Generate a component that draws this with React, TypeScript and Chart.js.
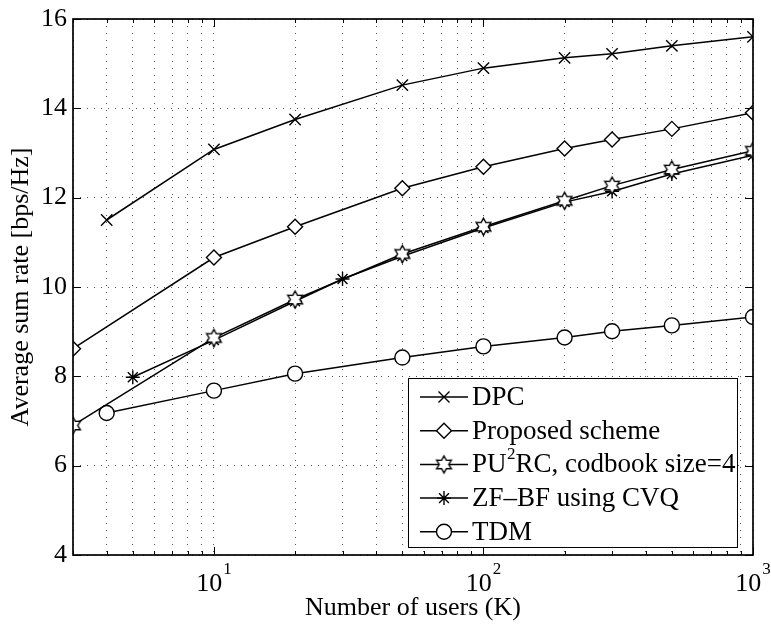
import React, { useEffect, useRef } from 'react';
import { Chart, registerables } from 'chart.js';

Chart.register(...registerables);

// ---------- data ----------
const kDPC = [4, 10, 20, 50, 100, 200, 300, 500, 1000];
const dpc = [11.5, 13.08, 13.75, 14.52, 14.9, 15.13, 15.22, 15.4, 15.6];

const kProposed = [3, 10, 20, 50, 100, 200, 300, 500, 1000];
const proposed = [8.62, 10.66, 11.35, 12.21, 12.69, 13.1, 13.3, 13.54, 13.9];

const kPU2RC = [3, 10, 20, 50, 100, 200, 300, 500, 1000];
const pu2rc = [6.9, 8.86, 9.72, 10.74, 11.35, 11.93, 12.27, 12.63, 13.05];

const kZF = [5, 10, 20, 30, 50, 100, 200, 300, 500, 1000];
const zf = [7.98, 8.81, 9.68, 10.18, 10.69, 11.32, 11.9, 12.14, 12.53, 12.95];

const kTDM = [4, 10, 20, 50, 100, 200, 300, 500, 1000];
const tdm = [7.18, 7.68, 8.06, 8.42, 8.67, 8.87, 9.01, 9.14, 9.33];

const seriesLabels = ['DPC', 'Proposed scheme', 'PU^2RC, codbook size=4', 'ZF\u2013BF using CVQ', 'TDM'];

const xTicks = [3, 4, 5, 6, 7, 8, 9, 10, 20, 30, 40, 50, 60, 70, 80, 90, 100, 200, 300, 400, 500, 600, 700, 800, 900, 1000];
const xMajor = [10, 100, 1000];
const xMajorExp = ['1', '2', '3'];
const yTicks = [4, 6, 8, 10, 12, 14, 16];

const xTitle = 'Number of users (K)';
const yTitle = 'Average sum rate [bps/Hz]';

const FONT = '"Liberation Serif", "DejaVu Serif", serif';

function makeHexagram(R: number) {
  const c = document.createElement('canvas');
  const s = Math.ceil(R * 2 + 4);
  c.width = s;
  c.height = s;
  const g = c.getContext('2d')!;
  const cx = s / 2, cy = s / 2;
  g.beginPath();
  for (let i = 0; i < 12; i++) {
    const ang = -Math.PI / 2 + (i * Math.PI) / 6;
    const r = i % 2 === 0 ? R : R * 0.56;
    const px = cx + r * Math.cos(ang);
    const py = cy + r * Math.sin(ang);
    if (i === 0) g.moveTo(px, py); else g.lineTo(px, py);
  }
  g.closePath();
  g.fillStyle = '#fff';
  g.fill();
  g.lineWidth = 1.4;
  g.strokeStyle = '#000';
  g.stroke();
  return c;
}

function drawLegendMarker(ctx: CanvasRenderingContext2D, kind: string, x: number, y: number, hex: HTMLCanvasElement) {
  ctx.save();
  ctx.strokeStyle = '#000';
  ctx.fillStyle = '#fff';
  ctx.lineWidth = 1.4;
  ctx.beginPath();
  if (kind === 'crossRot') {
    const d = 5.5;
    ctx.moveTo(x - d, y - d); ctx.lineTo(x + d, y + d);
    ctx.moveTo(x + d, y - d); ctx.lineTo(x - d, y + d);
    ctx.stroke();
  } else if (kind === 'rectRot') {
    const r = 7.5;
    ctx.moveTo(x - r, y); ctx.lineTo(x, y - r); ctx.lineTo(x + r, y); ctx.lineTo(x, y + r);
    ctx.closePath();
    ctx.fill(); ctx.stroke();
  } else if (kind === 'hex') {
    ctx.drawImage(hex, x - hex.width / 2, y - hex.height / 2);
  } else if (kind === 'star') {
    const r = 7;
    const d = r * Math.SQRT1_2;
    ctx.moveTo(x - r, y); ctx.lineTo(x + r, y);
    ctx.moveTo(x, y - r); ctx.lineTo(x, y + r);
    ctx.moveTo(x - d, y - d); ctx.lineTo(x + d, y + d);
    ctx.moveTo(x + d, y - d); ctx.lineTo(x - d, y + d);
    ctx.stroke();
  } else if (kind === 'circle') {
    ctx.arc(x, y, 7.5, 0, Math.PI * 2);
    ctx.fill(); ctx.stroke();
  }
  ctx.restore();
}

export default function App() {
  const ref = useRef<HTMLCanvasElement | null>(null);

  useEffect(() => {
    const canvas = ref.current;
    if (!canvas) return;
    const hex = makeHexagram(8.5);
    const markerKinds = ['crossRot', 'rectRot', 'hex', 'star', 'circle'];

    const mk = (ks: number[], vs: number[]) => ks.map((k, i) => ({ x: k, y: vs[i] }));
    const base = {
      borderColor: '#000',
      borderWidth: 1.5,
      pointBorderColor: '#000',
      pointBackgroundColor: '#fff',
      pointBorderWidth: 1.4,
      fill: false,
      tension: 0,
    };

    const overlay = {
      id: 'overlay',
      afterDraw(chart: any) {
        const { ctx, chartArea: a, scales } = chart;
        const xs = scales.x, ys = scales.y;
        ctx.save();
        ctx.strokeStyle = '#000';
        ctx.lineWidth = 1;
        ctx.setLineDash([]);
        ctx.beginPath();
        for (const v of xTicks) {
          const px = Math.round(xs.getPixelForValue(v)) + 0.5;
          const len = xMajor.includes(v) ? 8 : 4;
          ctx.moveTo(px, a.bottom); ctx.lineTo(px, a.bottom - len);
          ctx.moveTo(px, a.top); ctx.lineTo(px, a.top + len);
        }
        for (const v of yTicks) {
          const py = Math.round(ys.getPixelForValue(v)) + 0.5;
          ctx.moveTo(a.left, py); ctx.lineTo(a.left + 8, py);
          ctx.moveTo(a.right, py); ctx.lineTo(a.right - 8, py);
        }
        ctx.stroke();
        ctx.lineWidth = 1.7;
        ctx.strokeRect(a.left, a.top, a.right - a.left, a.bottom - a.top);

        // x tick labels with superscript exponent
        ctx.fillStyle = '#000';
        ctx.textBaseline = 'middle';
        ctx.textAlign = 'left';
        xMajor.forEach((v, i) => {
          const px = xs.getPixelForValue(v);
          ctx.font = `26px ${FONT}`;
          const wb = ctx.measureText('10').width;
          ctx.font = `17px ${FONT}`;
          const we = ctx.measureText(xMajorExp[i]).width;
          const x0 = px - (wb + we + 1) / 2;
          ctx.font = `26px ${FONT}`;
          ctx.fillText('10', x0, a.bottom + 29);
          ctx.font = `17px ${FONT}`;
          ctx.fillText(xMajorExp[i], x0 + wb + 1, a.bottom + 15);
        });

        // axis titles
        ctx.font = `26px ${FONT}`;
        ctx.textAlign = 'center';
        ctx.textBaseline = 'middle';
        ctx.fillText(xTitle, (a.left + a.right) / 2, a.bottom + 53);
        ctx.save();
        ctx.translate(a.left - 52, (a.top + a.bottom) / 2);
        ctx.rotate(-Math.PI / 2);
        ctx.fillText(yTitle, 0, 0);
        ctx.restore();

        // legend
        const lx0 = a.left + 335, lx1 = a.right - 16;
        const ly0 = a.bottom - 177, ly1 = a.bottom - 8;
        ctx.fillStyle = '#fff';
        ctx.fillRect(lx0, ly0, lx1 - lx0, ly1 - ly0);
        ctx.lineWidth = 1;
        ctx.strokeStyle = '#000';
        ctx.strokeRect(lx0 + 0.5, ly0 + 0.5, lx1 - lx0, ly1 - ly0);
        const rowH = 33.7;
        seriesLabels.forEach((lab, i) => {
          const cy = ly0 + 19 + i * rowH;
          ctx.lineWidth = 1.5;
          ctx.beginPath();
          ctx.moveTo(lx0 + 12, cy); ctx.lineTo(lx0 + 60, cy);
          ctx.stroke();
          drawLegendMarker(ctx, markerKinds[i], lx0 + 36, cy, hex);
          ctx.fillStyle = '#000';
          ctx.textAlign = 'left';
          ctx.textBaseline = 'middle';
          let tx = lx0 + 64;
          const parts = lab.split('^');
          ctx.font = `27px ${FONT}`;
          ctx.fillText(parts[0], tx, cy + 1);
          tx += ctx.measureText(parts[0]).width;
          if (parts.length > 1) {
            const sup = parts[1].charAt(0);
            const rest = parts[1].slice(1);
            ctx.font = `17px ${FONT}`;
            ctx.fillText(sup, tx + 0.5, cy - 10);
            tx += ctx.measureText(sup).width + 0.5;
            ctx.font = `27px ${FONT}`;
            ctx.fillText(rest, tx, cy + 1);
          }
        });
        ctx.restore();
      },
    };

    const chart = new Chart(canvas, {
      type: 'line',
      data: {
        datasets: [
          { ...base, label: seriesLabels[0], data: mk(kDPC, dpc), pointStyle: 'crossRot', pointRadius: 8 },
          { ...base, label: seriesLabels[1], data: mk(kProposed, proposed), pointStyle: 'rectRot', pointRadius: 7.5 },
          { ...base, label: seriesLabels[2], data: mk(kPU2RC, pu2rc), pointStyle: hex as any, pointRadius: 8.5 },
          { ...base, label: seriesLabels[3], data: mk(kZF, zf), pointStyle: 'star', pointRadius: 7 },
          { ...base, label: seriesLabels[4], data: mk(kTDM, tdm), pointStyle: 'circle', pointRadius: 7.5 },
        ] as any,
      },
      options: {
        animation: false,
        responsive: false,
        devicePixelRatio: 1,
        layout: { padding: { top: 14, right: 18, left: 0, bottom: 0 } },
        plugins: { legend: { display: false }, tooltip: { enabled: false } },
        scales: {
          x: {
            type: 'logarithmic',
            min: 3,
            max: 1000,
            afterBuildTicks: (s: any) => {
              s.ticks = xTicks.map((v) => ({ value: v }));
            },
            afterFit: (s: any) => {
              s.height = 71;
            },
            ticks: { display: false },
            grid: { color: '#555', lineWidth: 1, drawTicks: false },
            border: { display: false, dash: [1, 6] },
          },
          y: {
            type: 'linear',
            min: 4,
            max: 16,
            afterBuildTicks: (s: any) => {
              s.ticks = yTicks.map((v) => ({ value: v }));
            },
            afterFit: (s: any) => {
              s.width = 73;
            },
            ticks: { color: '#000', font: { family: FONT, size: 26, lineHeight: 1 }, padding: 6 },
            grid: { color: '#555', lineWidth: 1, drawTicks: false },
            border: { display: false, dash: [1, 6] },
          },
        },
      } as any,
      plugins: [overlay],
    });

    return () => chart.destroy();
  }, []);

  return (
    <div style={{ position: 'absolute', left: 0, top: 0, width: 771, height: 626, background: '#fff' }}>
      <canvas ref={ref} width={771} height={626} style={{ display: 'block' }} />
    </div>
  );
}
